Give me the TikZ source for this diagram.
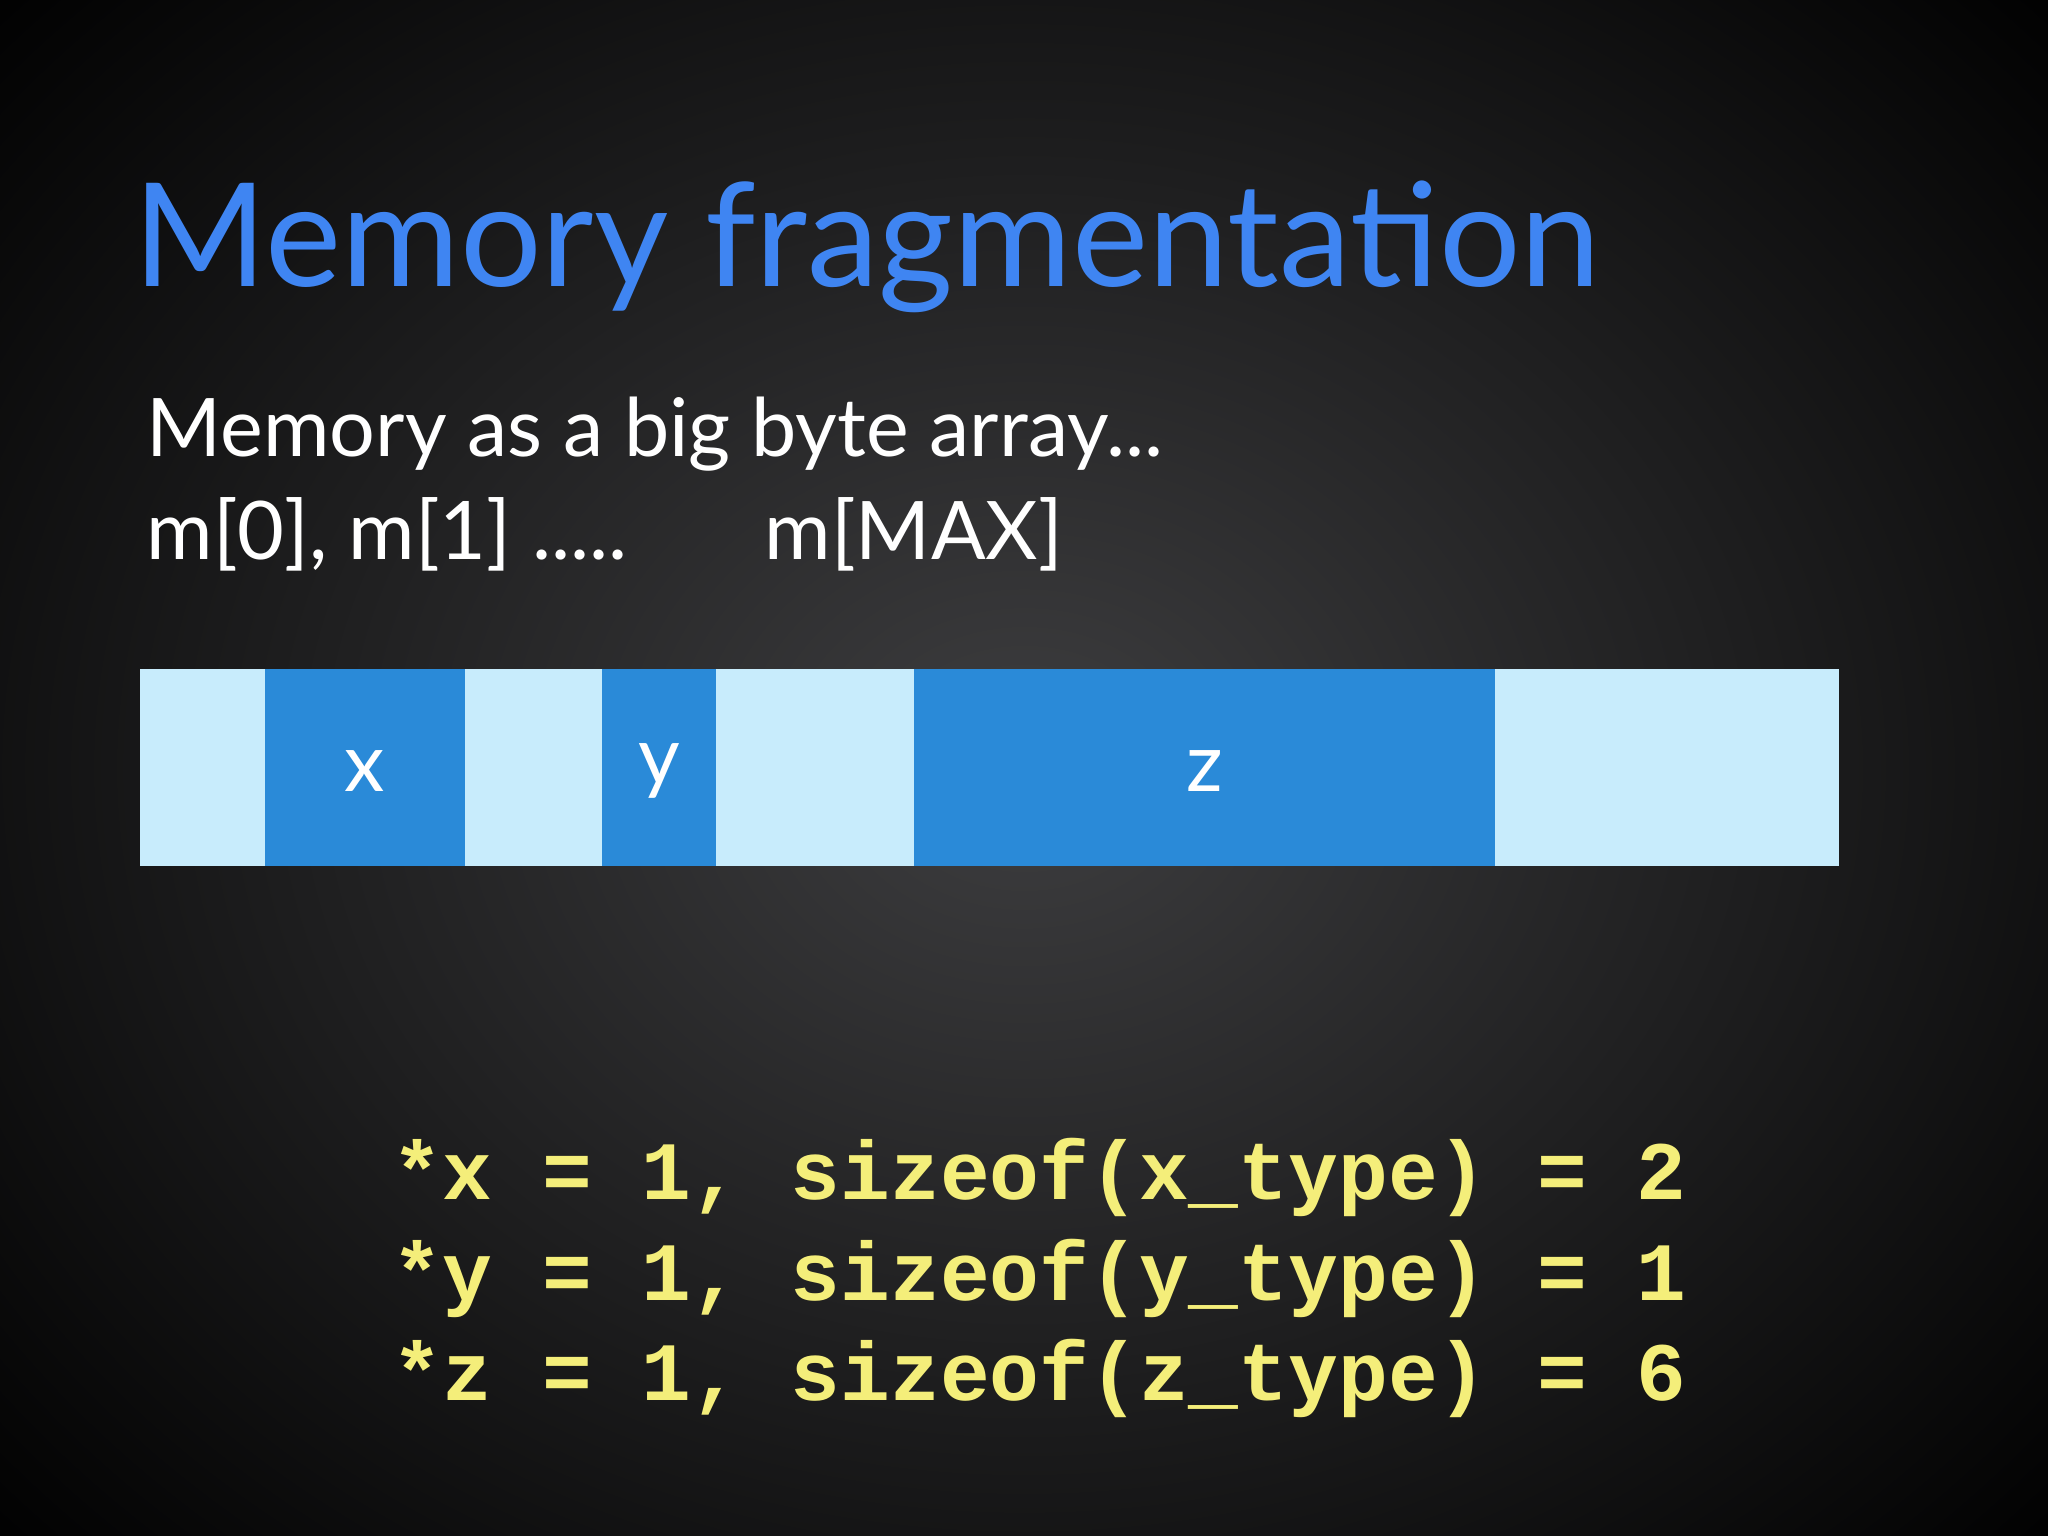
\documentclass[tikz,border=0pt]{standalone}
\usepackage{fontspec}
\setmainfont{Lato}
\setmonofont{Liberation Mono}
\definecolor{ttl}{HTML}{3F85F2}
\definecolor{lite}{HTML}{C8ECFC}
\definecolor{blk}{HTML}{2A8AD8}
\definecolor{code}{HTML}{F4EE7A}
\tikzset{
  free/.style={fill=lite,draw=none},
  used/.style={fill=blk,draw=none},
  lbl/.style={text=white,font=\fontsize{23}{28}\selectfont},
  body/.style={anchor=base west,text=white,font=\fontsize{23}{28}\selectfont,inner sep=0pt},
  cd/.style={anchor=base west,text=code,font=\ttfamily\bfseries\fontsize{23.6}{28}\selectfont,inner sep=0pt}
}
\begin{document}
\begin{tikzpicture}
\useasboundingbox (0,0) rectangle (20.48,-15.36);
\fill[black] (0,0) rectangle (20.48,-15.36);
\shade[inner color={rgb,255:red,62;green,62;blue,64},outer color=black] (-4,4) rectangle (24.48,-19.36);
\node[anchor=base west,text=ttl,font=\fontsize{41}{48}\selectfont,inner sep=0pt] (title) at (1.33,-2.87) {Memory fragmentation};
\node[body] (l1) at (1.46,-4.57) {Memory as a big byte array...};
\node[body] (l2) at (1.46,-5.59) {m[0], m[1] .....};
\node[body] (l3) at (7.64,-5.59) {m[MAX]};
\fill[free] (1.40,-6.69) rectangle (2.65,-8.66);
\fill[used] (2.65,-6.69) rectangle (4.65,-8.66);
\fill[free] (4.65,-6.69) rectangle (6.02,-8.66);
\fill[used] (6.02,-6.69) rectangle (7.16,-8.66);
\fill[free] (7.16,-6.69) rectangle (9.14,-8.66);
\fill[used] (9.14,-6.69) rectangle (14.95,-8.66);
\fill[free] (14.95,-6.69) rectangle (18.39,-8.66);
\node[lbl] (x) at (3.65,-7.71) {x};
\node[lbl] (y) at (6.59,-7.71) {y};
\node[lbl] (z) at (12.05,-7.71) {z};
\node[cd] (c1) at (3.92,-11.99) {*x = 1, sizeof(x\_type) = 2};
\node[cd] (c2) at (3.92,-13.00) {*y = 1, sizeof(y\_type) = 1};
\node[cd] (c3) at (3.92,-14.00) {*z = 1, sizeof(z\_type) = 6};
\end{tikzpicture}
\end{document}
